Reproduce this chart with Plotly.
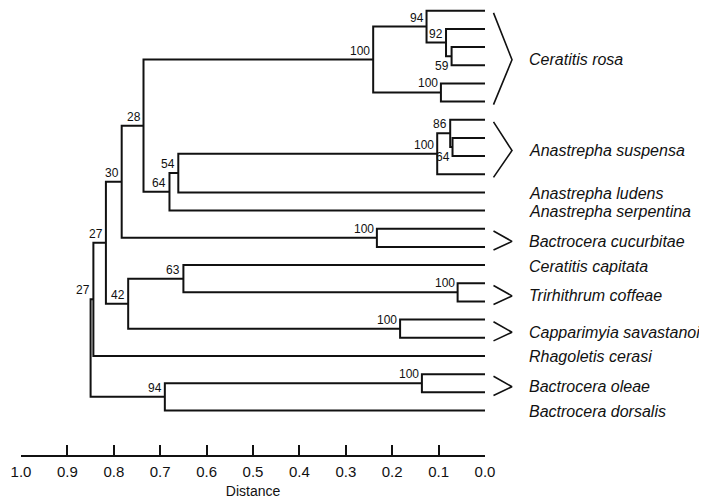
import plotly.graph_objects as go

# ---------------- data ----------------
SPECIES = ["Ceratitis rosa", "Anastrepha suspensa", "Anastrepha ludens",
           "Anastrepha serpentina", "Bactrocera cucurbitae", "Ceratitis capitata",
           "Trirhithrum coffeae", "Capparimyia savastanoi", "Rhagoletis cerasi",
           "Bactrocera oleae", "Bactrocera dorsalis"]
LEAF_COUNTS = [6, 4, 1, 1, 2, 1, 2, 2, 1, 2, 1]

# internal nodes (children: "L<i>" = leaf i, otherwise a node id)
NODE_IDS = ["n59", "n92", "n94", "n100a", "nRosa", "n64a", "n86", "n100b", "n54",
            "n64b", "n28", "nCuc", "n30", "nCof", "n63", "nSav", "n42", "n27a",
            "n27b", "nOle", "n94b", "root"]
NODE_CHILD_A = ["L2", "L1", "L0", "L4", "n94", "L7", "L6", "n86", "n100b", "n54",
                "nRosa", "L12", "n28", "L15", "L14", "L17", "n63", "n30", "n27a",
                "L20", "nOle", "n27b"]
NODE_CHILD_B = ["L3", "n59", "n92", "L5", "n100a", "L8", "n64a", "L9", "L10", "L11",
                "n64b", "L13", "nCuc", "L16", "nCof", "L18", "nSav", "n42", "L19",
                "L21", "L22", "n94b"]
NODE_DIST = [0.072, 0.084, 0.126, 0.095, 0.241, 0.070, 0.075, 0.103, 0.661,
             0.680, 0.736, 0.233, 0.783, 0.059, 0.650, 0.183, 0.769, 0.817,
             0.844, 0.136, 0.690, 0.850]
NODE_SUPPORT = ["59", "92", "94", "100", "100", "64", "86", "100", "54", "64",
                "28", "100", "30", "100", "63", "100", "42", "27", "27", "100",
                "94", ""]

TICK_VALS = [1.0, 0.9, 0.8, 0.7, 0.6, 0.5, 0.4, 0.3, 0.2, 0.1, 0.0]
TICK_TEXT = ["1.0", "0.9", "0.8", "0.7", "0.6", "0.5", "0.4", "0.3", "0.2", "0.1", "0.0"]

LABEL_BELOW = {"n59", "n64a"}   # support labels drawn under their stem

# ---------------- build ----------------
INK = "#111111"
FONT = "Liberation Sans, Arial, Helvetica, sans-serif"
n_leaves = sum(LEAF_COUNTS)
pos = {f"L{i}": (0.0, float(i)) for i in range(n_leaves)}

xs, ys = [], []
for nid, a, b, d in zip(NODE_IDS, NODE_CHILD_A, NODE_CHILD_B, NODE_DIST):
    da, ya = pos[a]
    db, yb = pos[b]
    pos[nid] = (d, (ya + yb) / 2)
    xs += [da, d, d, db, None]
    ys += [ya, ya, yb, yb, None]

fig = go.Figure()
fig.add_trace(go.Scatter(x=xs, y=ys, mode="lines",
                         line=dict(color=INK, width=2),
                         hoverinfo="skip", showlegend=False))

annotations = []
for nid, s in zip(NODE_IDS, NODE_SUPPORT):
    if not s:
        continue
    d, y = pos[nid]
    below = nid in LABEL_BELOW
    annotations.append(dict(x=d, y=y, xref="x", yref="y", text=s, showarrow=False,
                            xanchor="right", yanchor="top" if below else "bottom",
                            xshift=-1, yshift=-1 if below else 0,
                            font=dict(family=FONT, size=12, color=INK)))

# brackets + species names (right panel)
start = 0
for name, cnt in zip(SPECIES, LEAF_COUNTS):
    first, last = start, start + cnt - 1
    if cnt > 1:
        top, bot = first + 0.12, last + 0.17
        apex = (top + bot) / 2 + 0.05
        fig.add_trace(go.Scatter(x=[8.5, 27, 8.5], y=[top, apex, bot], mode="lines",
                                 xaxis="x2", yaxis="y",
                                 line=dict(color=INK, width=1.6),
                                 hoverinfo="skip", showlegend=False))
        ly = apex
    else:
        ly = first + 0.05
    annotations.append(dict(x=41.5, y=ly, xref="x2", yref="y", text=f"<i>{name}</i>",
                            showarrow=False, xanchor="left", yanchor="middle",
                            font=dict(family=FONT, size=16, color=INK)))
    start += cnt

# page body adds an 8px margin, so the figure is 699x492 inside the 707x500 window
split = 464 / 686
fig.update_layout(
    width=699, height=492,
    margin=dict(l=13, r=0, t=0, b=45, autoexpand=False),
    paper_bgcolor="white", plot_bgcolor="white",
    showlegend=False,
    annotations=annotations,
    xaxis=dict(domain=[0, split], range=[1.0, 0.0], anchor="y", automargin=False,
               tickvals=TICK_VALS, ticktext=TICK_TEXT,
               ticks="inside", ticklen=10, tickwidth=1.5, tickcolor=INK,
               showline=True, linecolor=INK, linewidth=1.5,
               showgrid=False, zeroline=False,
               ticklabelstandoff=2,
               tickfont=dict(family=FONT, size=15, color=INK),
               title=dict(text="Distance", standoff=7,
                          font=dict(family=FONT, size=14, color=INK))),
    xaxis2=dict(domain=[split, 1], range=[0, 222], anchor="y", visible=False),
    yaxis=dict(range=[24.45, -0.149], visible=False, anchor="x", automargin=False),
)

fig.write_html("out.html")
